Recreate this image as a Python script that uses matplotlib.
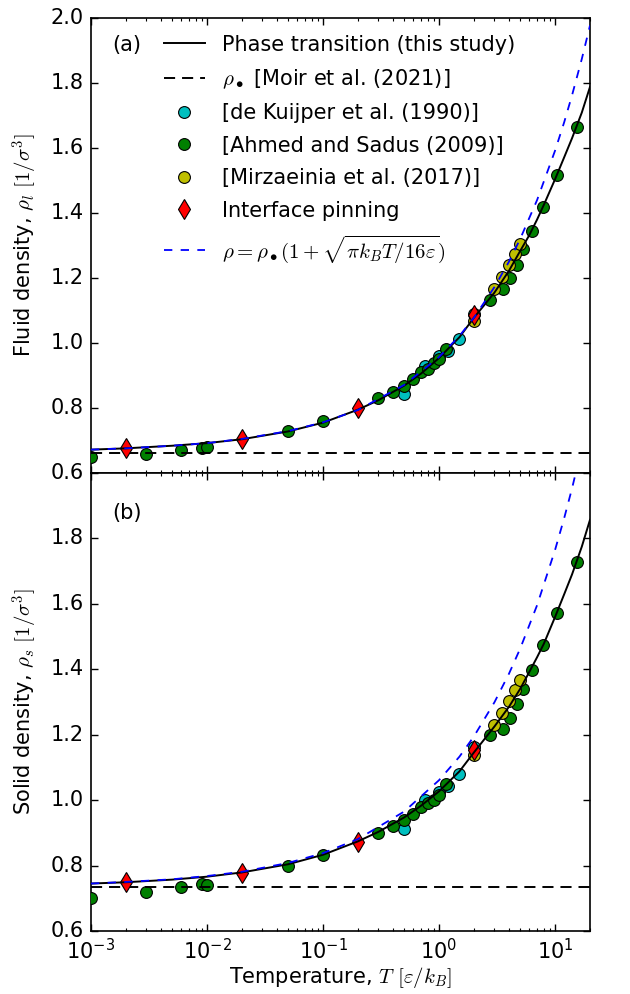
import matplotlib
matplotlib.use("Agg")
import matplotlib.pyplot as plt
import numpy as np

plt.style.use('classic')
plt.rcParams['mathtext.fontset'] = 'cm'
plt.rcParams['font.family'] = ['DejaVu Sans']

FS = 15

# ---------------- data ----------------
rho_dot_fluid = 0.663
rho_dot_solid = 0.735

# Phase transition (this study)
T_line = [0.001, 0.002, 0.005, 0.01, 0.02, 0.05, 0.1, 0.2, 0.3, 0.5, 0.7, 1, 1.5, 2,
          3, 4, 5, 6, 7, 8, 10, 12, 14, 17, 20]
fluid_line = [0.672, 0.676, 0.684, 0.692, 0.704, 0.728, 0.755, 0.795, 0.824, 0.869, 0.906,
              0.954, 1.018, 1.078, 1.155, 1.222, 1.283, 1.332, 1.380, 1.425, 1.504, 1.572,
              1.630, 1.709, 1.788]
solid_line = [0.745, 0.749, 0.757, 0.766, 0.779, 0.804, 0.833, 0.874, 0.903, 0.947, 0.983,
              1.027, 1.088, 1.146, 1.225, 1.285, 1.340, 1.392, 1.437, 1.478, 1.560, 1.630,
              1.690, 1.775, 1.857]

# rho = rho_dot (1 + sqrt(pi kB T / 16 eps))
T_approx = [0.001, 0.002, 0.005, 0.01, 0.02, 0.05, 0.1, 0.2, 0.5, 1, 1.5, 2, 3, 4, 5, 7,
            10, 12, 14, 17, 20]
fluid_approx = [0.672, 0.676, 0.684, 0.692, 0.705, 0.729, 0.756, 0.794, 0.871, 0.957, 1.022,
                1.078, 1.172, 1.250, 1.320, 1.440, 1.592, 1.680, 1.762, 1.874, 1.977]
solid_approx = [0.745, 0.750, 0.758, 0.768, 0.781, 0.808, 0.838, 0.881, 0.965, 1.061, 1.133,
                1.195, 1.299, 1.386, 1.463, 1.596, 1.765, 1.863, 1.953, 2.077, 2.191]

# de Kuijper et al. (1990)
T_kuijper = [0.5, 0.75, 1.0, 1.2, 1.5, 2.0]
fluid_kuijper = [0.842, 0.928, 0.960, 0.976, 1.012, 1.090]
solid_kuijper = [0.912, 1.000, 1.025, 1.043, 1.081, 1.163]

# Ahmed and Sadus (2009)
T_ahmed = [0.001, 0.003, 0.006, 0.009, 0.01, 0.05, 0.1, 0.3, 0.4, 0.5, 0.6, 0.7, 0.8, 0.9,
           1.0, 1.15, 2.75, 3.55, 4.1, 4.7, 5.33, 6.3, 7.8, 10.4, 15.4]
fluid_ahmed = [0.649, 0.660, 0.670, 0.677, 0.679, 0.728, 0.759, 0.830, 0.849, 0.869, 0.890,
               0.910, 0.920, 0.938, 0.951, 0.982, 1.131, 1.166, 1.201, 1.239, 1.289, 1.346,
               1.418, 1.518, 1.666]
solid_ahmed = [0.700, 0.720, 0.735, 0.744, 0.740, 0.798, 0.832, 0.900, 0.920, 0.939, 0.959,
               0.980, 0.992, 1.000, 1.015, 1.049, 1.198, 1.219, 1.251, 1.293, 1.340, 1.399,
               1.473, 1.573, 1.727]

# Mirzaeinia et al. (2017)
T_mirz = [2.0, 3.0, 3.5, 4.0, 4.5, 5.0]
fluid_mirz = [1.069, 1.166, 1.203, 1.239, 1.275, 1.305]
solid_mirz = [1.137, 1.231, 1.267, 1.303, 1.338, 1.368]

# Interface pinning
T_pin = [0.002, 0.02, 0.2, 2.0]
fluid_pin = [0.677, 0.706, 0.800, 1.085]
solid_pin = [0.749, 0.778, 0.873, 1.153]

yticks = [0.6, 0.8, 1.0, 1.2, 1.4, 1.6, 1.8, 2.0]

# ---------------- figure ----------------
fig = plt.figure(figsize=(6.3, 9.94), dpi=100, facecolor='white')
ax1 = fig.add_axes([0.1444, 0.5241, 0.7921, 0.4578])
ax2 = fig.add_axes([0.1444, 0.0634, 0.7921, 0.4607], sharex=ax1)

ms = 8.5
panels = [
    (ax1, fluid_line, fluid_approx, rho_dot_fluid, fluid_kuijper, fluid_ahmed, fluid_mirz,
     fluid_pin, 'Fluid density, $\\rho_l$ $[1/\\sigma^3]$', '(a)', 0.94),
    (ax2, solid_line, solid_approx, rho_dot_solid, solid_kuijper, solid_ahmed, solid_mirz,
     solid_pin, 'Solid density, $\\rho_s$ $[1/\\sigma^3]$', '(b)', 0.913),
]

for ax, yl, ya, rd, yk, yah, ymz, ypin, ylabel, tag, ty in panels:
    ax.set_facecolor('white')
    h_line, = ax.plot(T_line, yl, '-', color='k', lw=1.4, zorder=5,
                      label='Phase transition (this study)')
    h_dot, = ax.plot([1e-3, 20], [rd, rd], color='k', lw=1.4, dashes=(8, 5), zorder=4,
                     label='$\\rho_\\bullet$ [Moir et al. (2021)]')
    h_k, = ax.plot(T_kuijper, yk, 'o', ms=ms, mfc='c', mec='k', mew=0.8, zorder=3,
                   label='[de Kuijper et al. (1990)]')
    h_a, = ax.plot(T_ahmed, yah, 'o', ms=ms, mfc='g', mec='k', mew=0.8, zorder=3,
                   label='[Ahmed and Sadus (2009)]')
    h_m, = ax.plot(T_mirz, ymz, 'o', ms=ms, mfc='y', mec='k', mew=0.8, zorder=3,
                   label='[Mirzaeinia et al. (2017)]')
    h_p, = ax.plot(T_pin, ypin, 'd', ms=10, mfc='r', mec='k', mew=0.8, zorder=4,
                   label='Interface pinning')
    h_b, = ax.plot(T_approx, ya, color='b', lw=1.3, dashes=(6, 6), zorder=6,
                   label='$\\rho = \\rho_\\bullet(1+\\sqrt{\\pi k_B T/16\\varepsilon})$')
    ax.set_xscale('log')
    ax.set_xlim(1e-3, 20)
    ax.set_ylim(0.6, 2.0)
    ax.set_yticks(yticks)
    ax.set_ylabel(ylabel, fontsize=FS, labelpad=8)
    ax.tick_params(which='major', length=5, width=1, direction='in', top=True, right=True,
                   labelsize=FS, pad=5)
    ax.tick_params(which='minor', length=2.5, width=0.8, direction='in', top=True, right=True)
    for sp in ax.spines.values():
        sp.set_linewidth(1.2)
    ax.text(0.042, ty, tag, transform=ax.transAxes, fontsize=FS, va='center', ha='left')
    if ax is ax1:
        handles = [h_line, h_dot, h_k, h_a, h_m, h_p, h_b]

ax1.set_yticklabels(['0.6', '0.8', '1.0', '1.2', '1.4', '1.6', '1.8', '2.0'])
ax2.set_yticklabels(['0.6', '0.8', '1.0', '1.2', '1.4', '1.6', '1.8', ''])
plt.setp(ax1.get_xticklabels(), visible=False)
ax2.set_xlabel('Temperature, $T$ $[\\varepsilon/k_B]$', fontsize=FS, labelpad=1)

leg = ax1.legend(handles=handles, loc='upper left', bbox_to_anchor=(0.112, 1.0),
                 frameon=False, numpoints=1, fontsize=FS, handlelength=2.0,
                 handletextpad=0.8, labelspacing=0.6, borderaxespad=0.5, borderpad=0.3)

fig.savefig('out.png', dpi=100, facecolor='white')
